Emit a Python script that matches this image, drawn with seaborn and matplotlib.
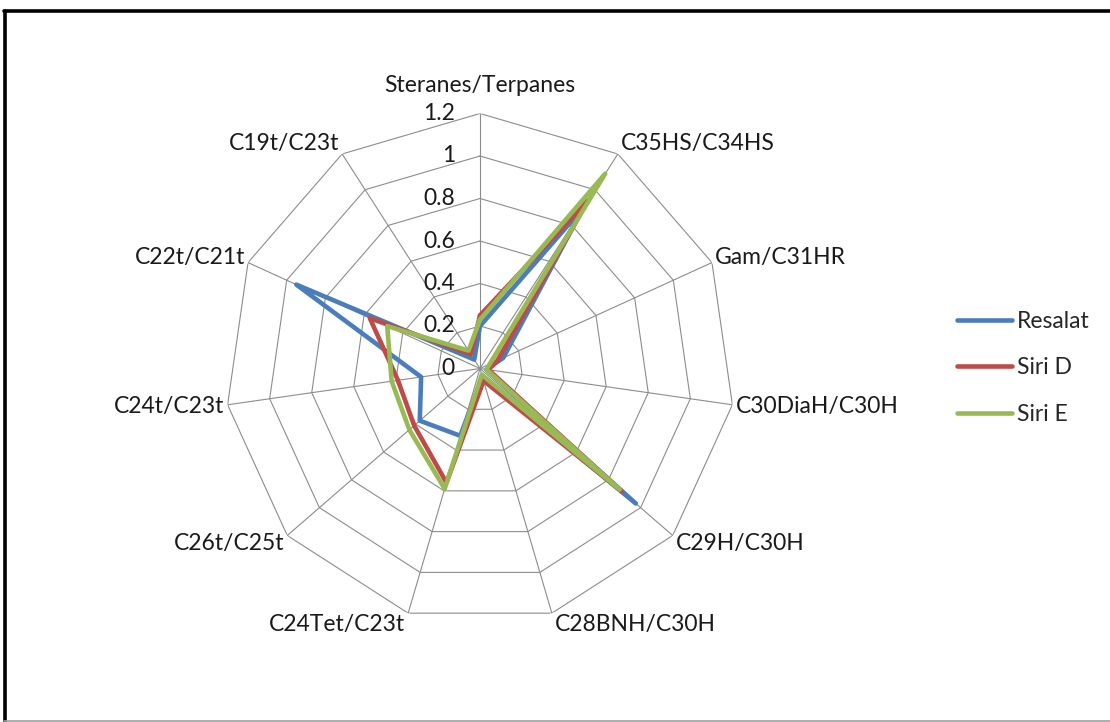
import numpy as np
import pandas as pd
import matplotlib
matplotlib.use("Agg")
import matplotlib.pyplot as plt
import seaborn as sns
from matplotlib.lines import Line2D

categories = ["Steranes/Terpanes", "C35HS/C34HS", "Gam/C31HR", "C30DiaH/C30H",
              "C29H/C30H", "C28BNH/C30H", "C24Tet/C23t", "C26t/C25t",
              "C24t/C23t", "C22t/C21t", "C19t/C23t"]
resalat = [0.20, 0.90, 0.12, 0.03, 0.97, 0.04, 0.33, 0.375, 0.28, 0.95, 0.05]
siri_d = [0.25, 0.94, 0.09, 0.04, 0.88, 0.06, 0.56, 0.41, 0.39, 0.57, 0.08]
siri_e = [0.23, 1.09, 0.05, 0.03, 0.87, 0.03, 0.59, 0.44, 0.42, 0.48, 0.10]
series_names = ["Resalat", "Siri D", "Siri E"]
radial_ticks = [0, 0.2, 0.4, 0.6, 0.8, 1.0, 1.2]
radial_labels = ["0", "0.2", "0.4", "0.6", "0.8", "1", "1.2"]
colors = ["#4A7EBB", "#BE4B48", "#98B954"]

sns.set_theme(style="white")
plt.rcParams["font.family"] = ["Lato", "DejaVu Sans"]
FS = 16.5

W, H = 1110, 722
fig = plt.figure(figsize=(W / 100, H / 100), dpi=100)
cx, cy, R = 480, 368.5, 255
ax = fig.add_axes([(cx - R) / W, 1 - (cy + R) / H, 2 * R / W, 2 * R / H], projection="polar")
ax.set_theta_zero_location("N")
ax.set_theta_direction(-1)

n = len(categories)
angles = np.linspace(0, 2 * np.pi, n, endpoint=False)
closed = np.append(angles, angles[0])

grid_c = "#8C8C8C"
for r in radial_ticks[1:]:
    ax.plot(closed, [r] * (n + 1), color=grid_c, lw=0.8, zorder=1)
for a in angles:
    ax.plot([a, a], [0, radial_ticks[-1]], color=grid_c, lw=0.8, zorder=1)

rows = []
for name, vals in zip(series_names, [resalat, siri_d, siri_e]):
    v = list(vals) + [vals[0]]
    for t, val in zip(closed, v):
        rows.append({"theta": t, "value": val, "series": name})
df = pd.DataFrame(rows)
sns.lineplot(data=df, x="theta", y="value", hue="series", hue_order=series_names,
             palette=colors, sort=False, estimator=None, linewidth=3.3,
             legend=False, ax=ax, zorder=3)

ax.set_ylim(0, radial_ticks[-1])
ax.set_xticks([])
ax.set_yticks([])
ax.set_xlabel("")
ax.set_ylabel("")
ax.grid(False)
ax.spines["polar"].set_visible(False)

rmax = radial_ticks[-1]
for a, lab in zip(angles, categories):
    s, c = np.sin(a), np.cos(a)
    if abs(s) < 0.1:
        ax.annotate(lab, (a, rmax), xytext=(0, 17), textcoords="offset pixels",
                    ha="center", va="bottom", fontsize=FS, color="#1a1a1a")
    else:
        ha = "left" if s > 0 else "right"
        ax.annotate(lab, (a, rmax), xytext=(3 * np.sign(s), 12 * c),
                    textcoords="offset pixels", ha=ha, va="center",
                    fontsize=FS, color="#1a1a1a")

for r, lab in zip(radial_ticks, radial_labels):
    ax.annotate(lab, (0, r), xytext=(-25, 0), textcoords="offset pixels",
                ha="right", va="center", fontsize=FS, color="#1a1a1a")

handles = [Line2D([], [], color=c, lw=3.3) for c in colors]
fig.legend(handles, series_names, loc="center left",
           bbox_to_anchor=(957 / W, 1 - 368 / H), frameon=False,
           fontsize=FS, handlelength=2.4, handletextpad=0.2,
           labelspacing=1.1, borderpad=0, borderaxespad=0)

# outer frame
fig.add_artist(Line2D([4 / W, 1], [1 - 10.5 / H, 1 - 10.5 / H], color="black", lw=2.6,
                      transform=fig.transFigure))
fig.add_artist(Line2D([4.5 / W, 4.5 / W], [0, 1 - 10.5 / H], color="black", lw=2.6,
                      transform=fig.transFigure))
fig.add_artist(Line2D([4 / W, 1], [1.2 / H, 1.2 / H], color="#A0A0A0", lw=1.2,
                      transform=fig.transFigure))

fig.savefig("out.png", dpi=100, facecolor="white")
